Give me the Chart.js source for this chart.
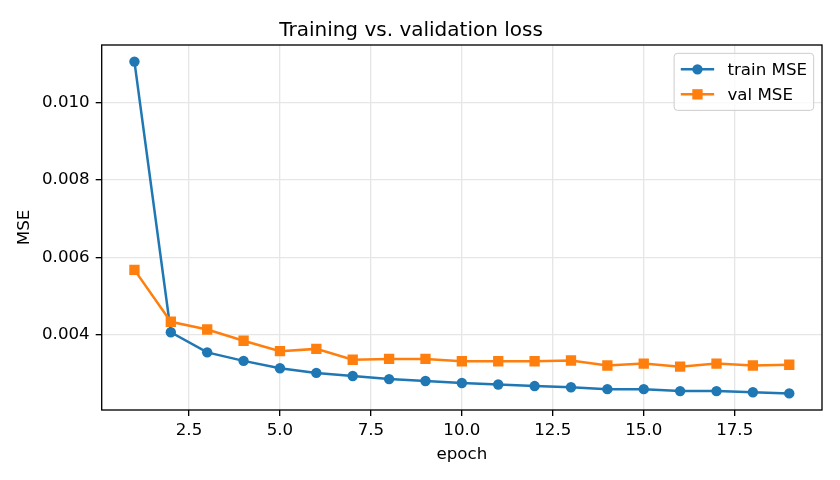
<!DOCTYPE html>
<html><head><meta charset="utf-8">
<script src="https://cdn.jsdelivr.net/npm/chart.js@4.4.1/dist/chart.umd.min.js"></script>
<style>html,body{margin:0;padding:0;background:#fff;}#wrap{width:840px;height:480px;}</style>
</head><body><div id="wrap"><canvas id="c" width="840" height="480"></canvas></div>
<script>
const epochs = [1,2,3,4,5,6,7,8,9,10,11,12,13,14,15,16,17,18,19];
const trainMSE = [0.01106,0.00407,0.00355,0.00333,0.00314,0.00302,0.00294,0.00286,0.00281,0.00276,0.00272,0.00268,0.00265,0.00260,0.00260,0.00255,0.00255,0.00252,0.00249];
const valMSE = [0.00568,0.00434,0.00414,0.00385,0.00358,0.00364,0.00336,0.00338,0.00338,0.00332,0.00332,0.00332,0.00334,0.00321,0.00326,0.00318,0.00326,0.00321,0.00323];
const xTicks = [2.5,5.0,7.5,10.0,12.5,15.0,17.5];
const yTicks = [0.004,0.006,0.008,0.010];
const seriesLabels = ['train MSE','val MSE'];
const titleText = 'Training vs. validation loss';
const xLabel = 'epoch';
const yLabel = 'MSE';

const BLUE = '#1f77b4', ORANGE = '#ff7f0e';
const FONT = "'DejaVu Sans', sans-serif";
Chart.defaults.font.family = FONT;
Chart.defaults.color = '#000';

function margins(arr){
  const lo = Math.min(...arr), hi = Math.max(...arr), m = (hi-lo)*0.05;
  return [lo-m, hi+m];
}
const [xMin,xMax] = margins(epochs);
const [yMin,yMax] = margins(trainMSE.concat(valMSE));

const frame = {
  id:'frame',
  afterDatasetsDraw(chart){
    const a = chart.chartArea, ctx = chart.ctx;
    ctx.save();
    ctx.strokeStyle = '#000'; ctx.lineWidth = 1.33;
    ctx.strokeRect(a.left, a.top, a.right-a.left, a.bottom-a.top);
    ctx.restore();
  }
};

const legendBox = {
  id:'legendBox',
  afterDraw(chart){
    const a = chart.chartArea, ctx = chart.ctx;
    const fs = 16.67;
    ctx.save();
    ctx.font = fs + 'px ' + FONT;
    const ds = chart.data.datasets;
    let tw = 0; ds.forEach(d => tw = Math.max(tw, ctx.measureText(d.label).width));
    const pad = 0.4*fs, hl = 2*fs, htp = 0.8*fs, ls = 0.5*fs, rowH = fs;
    const w = pad + hl + htp + tw + pad;
    const h = pad*2 + rowH*ds.length + ls*(ds.length-1) + 2;
    const x0 = a.right - 0.5*fs - w, y0 = a.top + 0.5*fs;
    const r = 0.2*fs;
    ctx.beginPath();
    ctx.moveTo(x0+r,y0); ctx.lineTo(x0+w-r,y0); ctx.arcTo(x0+w,y0,x0+w,y0+r,r);
    ctx.lineTo(x0+w,y0+h-r); ctx.arcTo(x0+w,y0+h,x0+w-r,y0+h,r);
    ctx.lineTo(x0+r,y0+h); ctx.arcTo(x0,y0+h,x0,y0+h-r,r);
    ctx.lineTo(x0,y0+r); ctx.arcTo(x0,y0,x0+r,y0,r); ctx.closePath();
    ctx.fillStyle = 'rgba(255,255,255,0.8)'; ctx.fill();
    ctx.strokeStyle = '#cccccc'; ctx.lineWidth = 1; ctx.stroke();
    ds.forEach((d,i) => {
      const cy = y0 + pad + 1 + rowH/2 + i*(rowH+ls);
      const lx = x0 + pad;
      ctx.strokeStyle = d.borderColor; ctx.lineWidth = d.borderWidth;
      ctx.beginPath(); ctx.moveTo(lx, cy); ctx.lineTo(lx+hl, cy); ctx.stroke();
      ctx.fillStyle = d.backgroundColor;
      ctx.beginPath();
      if (d.pointStyle === 'circle') { ctx.arc(lx+hl/2, cy, d.pointRadius, 0, Math.PI*2); }
      else { const s = d.pointRadius*Math.SQRT1_2; ctx.rect(lx+hl/2-s, cy-s, 2*s, 2*s); }
      ctx.fill();
      ctx.fillStyle = '#000'; ctx.textBaseline = 'middle'; ctx.textAlign = 'left';
      ctx.fillText(d.label, lx+hl+htp, cy+1);
    });
    ctx.restore();
  }
};

const tickFont = {size:16.67, family:FONT};
new Chart(document.getElementById('c'), {
  type:'line',
  data:{
    datasets:[
      {label:seriesLabels[0], data:epochs.map((e,i)=>({x:e,y:trainMSE[i]})), borderColor:BLUE, backgroundColor:BLUE,
       borderWidth:2.5, pointStyle:'circle', pointRadius:5.2, pointBorderWidth:0, order:2, tension:0},
      {label:seriesLabels[1], data:epochs.map((e,i)=>({x:e,y:valMSE[i]})), borderColor:ORANGE, backgroundColor:ORANGE,
       borderWidth:2.5, pointStyle:'rect', pointRadius:7.3, pointBorderWidth:0, order:1, tension:0}
    ]
  },
  options:{
    responsive:false, animation:false, events:[], devicePixelRatio:1,
    layout:{padding:{left:0,right:18,top:0,bottom:0}},
    plugins:{
      legend:{display:false}, tooltip:{enabled:false},
      title:{display:true, text:titleText, color:'#000', font:{size:20, weight:'normal', family:FONT, lineHeight:1.2}, padding:{top:19,bottom:2}}
    },
    scales:{
      x:{type:'linear', min:xMin, max:xMax,
        afterBuildTicks(s){ s.ticks = xTicks.map(v=>({value:v})); },
        afterFit(s){ s.height = 70; },
        ticks:{font:tickFont, color:'#000', padding:5, maxRotation:0, autoSkip:false, callback:v=>Number(v).toFixed(1)},
        grid:{color:'#e6e6e6', lineWidth:1.33, drawTicks:true, tickLength:6, tickColor:'#000', tickWidth:1.33},
        border:{display:false},
        title:{display:true, text:xLabel, color:'#000', font:{size:16.67, family:FONT}, padding:{top:0,bottom:15.5}}
      },
      y:{type:'linear', min:yMin, max:yMax,
        afterBuildTicks(s){ s.ticks = yTicks.map(v=>({value:v})); },
        afterFit(s){ s.width = 101.7; },
        ticks:{font:tickFont, color:'#000', padding:6, autoSkip:false, callback:v=>Number(v).toFixed(3)},
        grid:{color:'#e6e6e6', lineWidth:1.33, drawTicks:true, tickLength:6, tickColor:'#000', tickWidth:1.33},
        border:{display:false},
        title:{display:true, text:yLabel, color:'#000', font:{size:16.67, family:FONT}, padding:{top:15,bottom:0}}
      }
    }
  },
  plugins:[frame, legendBox]
});
</script></body></html>
